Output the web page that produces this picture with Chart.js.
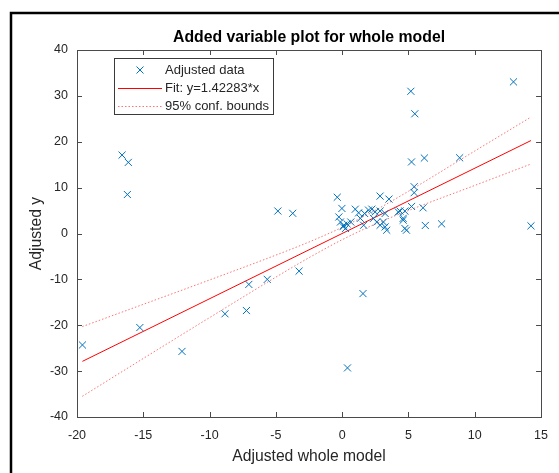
<!DOCTYPE html>
<html><head><meta charset="utf-8">
<script src="https://cdn.jsdelivr.net/npm/chart.js@4/dist/chart.umd.min.js"></script>
<style>html,body{margin:0;padding:0;background:#fff;} #wrap{position:relative;width:559px;height:473px;}</style>
</head><body><div id="wrap"><canvas id="c" width="559" height="473"></canvas></div>
<script>
// ---- data ----
const dataX = [-19.59,-16.6,-16.13,-16.2,-15.26,-12.08,-8.84,-7.22,-7.04,-5.65,-4.85,-3.73,-3.25,
  -0.37,-0.02,-0.25,-0.13,0.12,0.25,0.07,0.37,0.4,0.65,0.99,1.24,1.37,1.57,1.62,1.69,1.99,2.24,2.36,
  2.49,2.61,2.86,2.86,2.86,3.11,3.24,3.24,3.36,3.53,4.23,4.36,4.6,4.6,4.73,4.73,4.85,5.18,5.48,5.23,
  6.2,8.86,5.43,5.43,5.23,6.1,6.27,7.5,12.92,14.24];
const dataY = [-24.3,17.1,15.5,8.5,-20.5,-25.7,-17.5,-16.8,-11.1,-10.0,4.9,4.4,-8.2,
  7.9,5.46,3.6,2.5,1.8,1.1,1.5,2.1,-29.3,2.5,5.3,4.5,3.3,-13.1,1.8,4.37,5.1,5.3,3.3,
  4.7,2.5,4.9,8.15,1.8,2.5,4.37,1.45,0.72,7.5,4.7,4.9,3.3,2.9,1.1,4.9,0.72,31.0,26.1,15.6,
  16.45,16.5,10.2,8.9,5.9,5.6,1.75,2.1,33.05,1.67];
const fitX = [-19.59, 14.24];
const fitY = [-27.87, 20.26];
const boundX = [-19.6,-15,-10,-5,-2.5,0,2.5,5,10,14.2];
const upperY = [-20.29,-15.44,-10.13,-4.71,-1.85,1.35,5.06,9.21,17.98,25.30];
const lowerY = [-35.49,-27.24,-18.33,-9.51,-5.27,-1.35,2.06,5.01,10.48,15.10];
const xTicks = [-20,-15,-10,-5,0,5,10,15];
const yTicks = [-40,-30,-20,-10,0,10,20,30,40];
const titleText = 'Added variable plot for whole model';
const xLabel = 'Adjusted whole model';
const yLabel = 'Adjusted y';
const legendLabels = ['Adjusted data', 'Fit: y=1.42283*x', '95% conf. bounds'];

const FONT = "'Liberation Sans', Arial, Helvetica, sans-serif";
const BLUE = '#0072BD';
const AXC = '#262626';

const pts = (xs, ys) => xs.map((x, i) => ({x: x, y: ys[i]}));

const decor = {
  id: 'decor',
  afterDraw(chart) {
    const ctx = chart.ctx;
    const a = chart.chartArea;
    const xs = chart.scales.x, ys = chart.scales.y;
    ctx.save();
    // outer frame
    ctx.strokeStyle = '#000'; ctx.lineWidth = 2.5;
    ctx.beginPath(); ctx.moveTo(11, 473); ctx.lineTo(11, 13); ctx.lineTo(559, 13); ctx.stroke();
    // axes box
    ctx.strokeStyle = '#4a4a4a'; ctx.lineWidth = 1;
    ctx.strokeRect(Math.round(a.left) + 0.5, Math.round(a.top) + 0.5,
      Math.round(a.right - a.left), Math.round(a.bottom - a.top));
    // inward ticks
    const tl = 5;
    ctx.beginPath();
    xTicks.forEach(v => {
      const p = Math.round(xs.getPixelForValue(v)) + 0.5;
      ctx.moveTo(p, a.bottom); ctx.lineTo(p, a.bottom - tl);
      ctx.moveTo(p, a.top); ctx.lineTo(p, a.top + tl);
    });
    yTicks.forEach(v => {
      const p = Math.round(ys.getPixelForValue(v)) + 0.5;
      ctx.moveTo(a.left, p); ctx.lineTo(a.left + tl, p);
      ctx.moveTo(a.right, p); ctx.lineTo(a.right - tl, p);
    });
    ctx.stroke();
    // title
    ctx.fillStyle = '#000';
    ctx.font = 'bold 15.8px ' + FONT;
    ctx.textAlign = 'center'; ctx.textBaseline = 'middle';
    ctx.fillText(titleText, (a.left + a.right) / 2, 38);
    // legend
    const lx = 114.5, ly = 58.5, lw = 159, lh = 56;
    ctx.fillStyle = '#fff'; ctx.fillRect(lx, ly, lw, lh);
    ctx.strokeStyle = '#3a3a3a'; ctx.lineWidth = 1; ctx.strokeRect(lx, ly, lw, lh);
    const rows = [70, 88, 106];
    ctx.font = '13px ' + FONT; ctx.fillStyle = AXC; ctx.textAlign = 'left'; ctx.textBaseline = 'middle';
    legendLabels.forEach((t, i) => ctx.fillText(t, 165, rows[i]));
    // marker
    ctx.strokeStyle = BLUE; ctx.lineWidth = 1;
    ctx.beginPath();
    const mx = 140, my = rows[0], r = 3.5;
    ctx.moveTo(mx - r, my - r); ctx.lineTo(mx + r, my + r);
    ctx.moveTo(mx - r, my + r); ctx.lineTo(mx + r, my - r);
    ctx.stroke();
    // fit sample
    ctx.strokeStyle = '#ff0000';
    ctx.beginPath(); ctx.moveTo(118, rows[1] + 0.5); ctx.lineTo(162, rows[1] + 0.5); ctx.stroke();
    // bounds sample
    ctx.strokeStyle = 'rgba(255,0,0,0.55)'; ctx.setLineDash([1.5, 2]);
    ctx.beginPath(); ctx.moveTo(118, rows[2] + 0.5); ctx.lineTo(162, rows[2] + 0.5); ctx.stroke();
    ctx.restore();
  }
};

new Chart(document.getElementById('c'), {
  type: 'scatter',
  data: {
    datasets: [
      {label: legendLabels[0], data: pts(dataX, dataY), pointStyle: 'crossRot', pointRadius: 5,
       borderColor: BLUE, backgroundColor: BLUE, pointBorderWidth: 1, showLine: false, order: 1},
      {label: legendLabels[1], data: pts(fitX, fitY), showLine: true, pointRadius: 0,
       borderColor: '#ff0000', borderWidth: 1, order: 2},
      {label: legendLabels[2], data: pts(boundX, upperY), showLine: true, pointRadius: 0,
       borderColor: 'rgba(255,0,0,0.55)', borderWidth: 1, borderDash: [1.5, 2], cubicInterpolationMode: 'monotone', order: 3},
      {label: legendLabels[2], data: pts(boundX, lowerY), showLine: true, pointRadius: 0,
       borderColor: 'rgba(255,0,0,0.55)', borderWidth: 1, borderDash: [1.5, 2], cubicInterpolationMode: 'monotone', order: 3}
    ]
  },
  options: {
    responsive: false, animation: false, devicePixelRatio: 1,
    layout: {padding: {top: 50, right: 13, left: 0, bottom: 0}},
    plugins: {legend: {display: false}, tooltip: {enabled: false}, title: {display: false}},
    scales: {
      x: {
        type: 'linear', min: -20, max: 15,
        afterBuildTicks: s => { s.ticks = xTicks.map(v => ({value: v})); },
        afterFit: s => { s.height = 56; },
        grid: {display: false, drawTicks: false}, border: {display: false},
        ticks: {color: AXC, font: {family: FONT, size: 12.5}, padding: 11, maxRotation: 0, autoSkip: false},
        title: {display: true, text: xLabel, color: AXC, font: {family: FONT, size: 15.7}, padding: {top: 0, bottom: 6.5}}
      },
      y: {
        type: 'linear', min: -40, max: 40,
        afterBuildTicks: s => { s.ticks = yTicks.map(v => ({value: v})); },
        afterFit: s => { s.width = 77; },
        grid: {display: false, drawTicks: false}, border: {display: false},
        ticks: {color: AXC, font: {family: FONT, size: 12.5}, padding: 9, autoSkip: false},
        title: {display: true, text: yLabel, color: AXC, font: {family: FONT, size: 15.7}, padding: {top: 27, bottom: 0}}
      }
    }
  },
  plugins: [decor]
});
</script>
</body></html>
